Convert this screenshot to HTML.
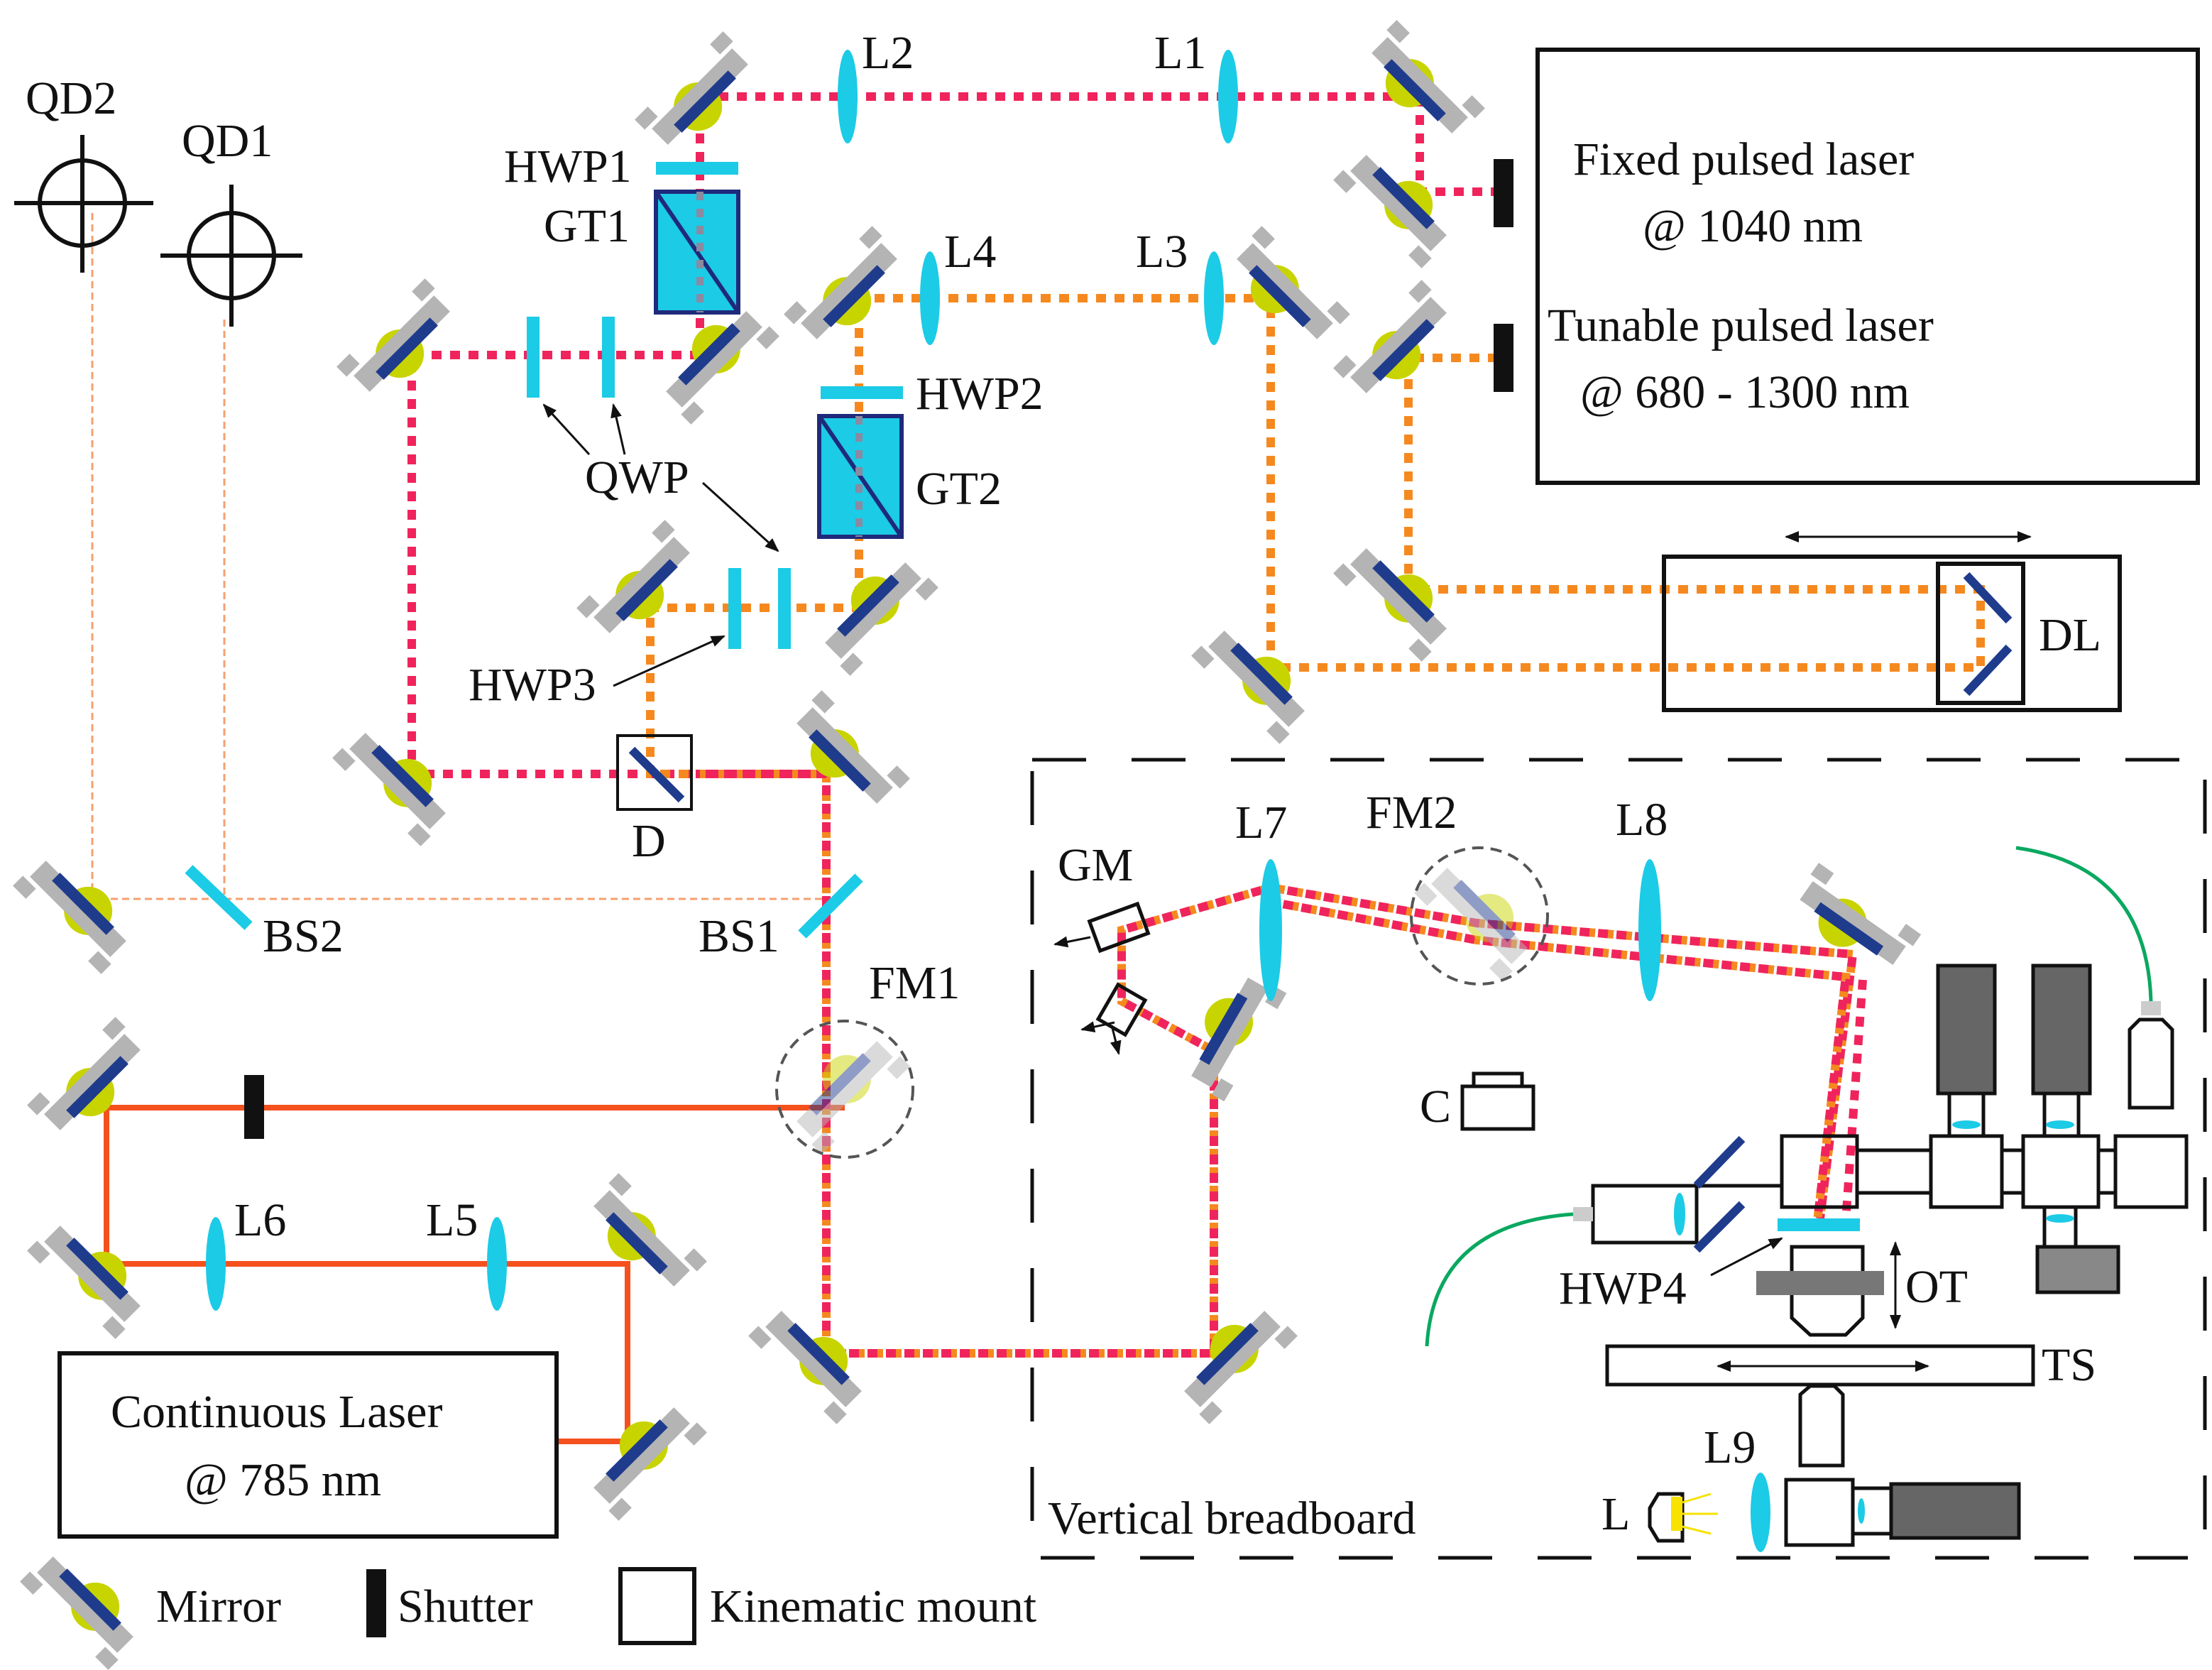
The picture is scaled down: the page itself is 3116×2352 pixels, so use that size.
<!DOCTYPE html>
<html><head><style>
html,body{margin:0;padding:0;background:#fff;}
svg{display:block;}
</style></head><body>
<svg width="3116" height="2352" viewBox="0 0 1558 1176" xmlns="http://www.w3.org/2000/svg" font-family="'Liberation Serif', serif" font-size="33" fill="#111">
<defs>
<g id="m">
<circle cx="-6" cy="4" r="17" fill="#c8d400"/>
<rect x="-40" y="-8" width="80" height="16" fill="#b4b4b4"/>
<rect x="-44" y="-21" width="13" height="10" fill="#b4b4b4"/>
<rect x="31" y="-21" width="13" height="10" fill="#b4b4b4"/>
<rect x="-27" y="1" width="54" height="8" fill="#1f3b8c"/>
</g>
<marker id="ah" markerWidth="10" markerHeight="8" refX="9" refY="4" orient="auto" markerUnits="userSpaceOnUse"><path d="M0,0 L10,4 L0,8z" fill="#111"/></marker>
<marker id="ah2" markerWidth="10" markerHeight="8" refX="1" refY="4" orient="auto" markerUnits="userSpaceOnUse"><path d="M10,0 L0,4 L10,8z" fill="#111"/></marker>
</defs>

<g stroke="#f5a070" stroke-width="1.5" stroke-dasharray="5 3" fill="none">
<path d="M65,150 V633 H582"/><path d="M158,225 V633"/>
</g>

<path d="M392,1015 H442 V890 H75 V780 H595" stroke="#f4511e" stroke-width="4" fill="none"/>

<g stroke="#f0245c" stroke-width="6" stroke-dasharray="7 6" fill="none">
<path d="M493,68 H1000 V135 H1055"/>
<path d="M493,68 V250 H290 V545 H582"/>
</g>
<g stroke="#f5891f" stroke-width="6" stroke-dasharray="7 6" fill="none">
<path d="M1055,252 H992 V415 H1395 L1395,470 H895 V210 H605 V428 H458 V545 H490"/>
</g>
<g fill="none" stroke-width="6">
<path d="M490,545 H582 V953 H855 V740 L790,705 L790,655 L895,625 L1040,650 L1305,672 L1282,858" stroke="#f5891f" stroke-dasharray="7 6"/>
<path d="M490,545 H582 V953 H855 V740 L790,705 L790,655 L895,625 L1040,650 L1305,672 L1282,858" stroke="#f0245c" stroke-dasharray="7 6" stroke-dashoffset="4"/>
<path d="M895,635 L1040,662 L1300,688 L1280,860" stroke="#f5891f" stroke-dasharray="7 6"/>
<path d="M895,635 L1040,662 L1300,688 L1280,860" stroke="#f0245c" stroke-dasharray="7 6" stroke-dashoffset="4"/>
<path d="M1312,690 L1300,860" stroke="#f0245c" stroke-dasharray="7 6"/>
</g>

<use href="#m" transform="translate(493,68) rotate(-45)"/>
<use href="#m" transform="translate(1000,60) rotate(45)"/>
<use href="#m" transform="translate(985,143) rotate(-135)"/>
<use href="#m" transform="translate(598,205) rotate(-45)"/>
<use href="#m" transform="translate(905,205) rotate(45)"/>
<use href="#m" transform="translate(985,243) rotate(-45)"/>
<use href="#m" transform="translate(985,420) rotate(-135)"/>
<use href="#m" transform="translate(885,478) rotate(-135)"/>
<use href="#m" transform="translate(283,242) rotate(-45)"/>
<use href="#m" transform="translate(503,253) rotate(135)"/>
<use href="#m" transform="translate(452,412) rotate(-45)"/>
<use href="#m" transform="translate(615,430) rotate(135)"/>
<use href="#m" transform="translate(280,550) rotate(-135)"/>
<use href="#m" transform="translate(595,532) rotate(45)"/>
<use href="#m" transform="translate(55,640) rotate(-135)"/>
<use href="#m" transform="translate(65,762) rotate(-45)"/>
<use href="#m" transform="translate(65,897) rotate(-135)"/>
<use href="#m" transform="translate(452,872) rotate(45)"/>
<use href="#m" transform="translate(452,1025) rotate(135)"/>
<use href="#m" transform="translate(573,957) rotate(-135)"/>
<use href="#m" transform="translate(868,957) rotate(135)"/>
<use href="#m" transform="translate(866,727) rotate(120)"/>
<use href="#m" transform="translate(1305,650) rotate(35)"/>
<use href="#m" transform="translate(60,1130) rotate(-135)"/>
<g opacity="0.5"><use href="#m" transform="translate(595,767) rotate(135)"/><use href="#m" transform="translate(1042,645) rotate(-135)"/></g>
<circle cx="595" cy="767" r="48" fill="none" stroke="#555" stroke-width="2" stroke-dasharray="8 5"/>
<circle cx="1042" cy="645" r="48" fill="none" stroke="#555" stroke-width="2" stroke-dasharray="8 5"/>

<g stroke="#1ccbe6" stroke-width="8"><line x1="133" y1="612" x2="175" y2="652"/><line x1="565" y1="658" x2="605" y2="618"/></g>

<g fill="#1ccbe6">
<ellipse cx="597" cy="68" rx="7" ry="33"/><ellipse cx="865" cy="68" rx="7" ry="33"/>
<ellipse cx="655" cy="210" rx="7" ry="33"/><ellipse cx="855" cy="210" rx="7" ry="33"/>
<ellipse cx="152" cy="890" rx="7" ry="33"/><ellipse cx="350" cy="890" rx="7" ry="33"/>
<ellipse cx="895" cy="655" rx="8" ry="50"/><ellipse cx="1162" cy="655" rx="8" ry="50"/>
<ellipse cx="1240" cy="1065" rx="7" ry="28"/>
<rect x="462" y="114" width="58" height="9"/><rect x="578" y="272" width="58" height="9"/>
<rect x="1252" y="858" width="58" height="9"/>
<rect x="371" y="223" width="9" height="57"/><rect x="424" y="223" width="9" height="57"/>
<rect x="513" y="400" width="9" height="57"/><rect x="548" y="400" width="9" height="57"/>
</g>
<g stroke="#1f2a7a" stroke-width="3" fill="#1ccbe6">
<rect x="462" y="135" width="58" height="85"/><line x1="462" y1="135" x2="520" y2="220"/>
<rect x="577" y="293" width="58" height="85"/><line x1="577" y1="293" x2="635" y2="378"/>
</g>
<g stroke="#8a8aa0" stroke-width="5" stroke-dasharray="6 6"><line x1="493" y1="135" x2="493" y2="220"/><line x1="605" y1="293" x2="605" y2="378"/></g>
<rect x="435" y="518" width="52" height="52" fill="none" stroke="#111" stroke-width="2"/>
<line x1="445" y1="528" x2="480" y2="563" stroke="#1f3b8c" stroke-width="6"/>

<g stroke="#111" stroke-width="3" fill="none">
<circle cx="58" cy="143" r="30"/><line x1="10" y1="143" x2="108" y2="143"/><line x1="58" y1="95" x2="58" y2="192"/>
<circle cx="163" cy="180" r="30"/><line x1="113" y1="180" x2="213" y2="180"/><line x1="163" y1="130" x2="163" y2="230"/>
</g>

<g fill="#111"><rect x="1052" y="112" width="14" height="48"/><rect x="1052" y="228" width="14" height="48"/><rect x="172" y="757" width="14" height="45"/><rect x="258" y="1105" width="14" height="48"/></g>

<g fill="none" stroke="#111" stroke-width="3">
<rect x="1083" y="35" width="465" height="305"/>
<rect x="1172" y="392" width="321" height="108"/>
<rect x="1365" y="397" width="60" height="98"/>
<rect x="42" y="953" width="350" height="129"/>
<rect x="437" y="1105" width="52" height="52"/>
<rect x="727" y="535" width="826" height="562" stroke-dasharray="38 32" stroke-width="2.5"/>
</g>
<g stroke="#1f3b8c" stroke-width="6"><line x1="1385" y1="405" x2="1415" y2="437"/><line x1="1385" y1="488" x2="1415" y2="456"/></g>
<line x1="1258" y1="378" x2="1430" y2="378" stroke="#111" stroke-width="1.5" marker-end="url(#ah)" marker-start="url(#ah2)"/>

<g stroke="#111" stroke-width="1.5" fill="none" marker-end="url(#ah)">
<line x1="415" y1="320" x2="383" y2="285"/><line x1="440" y1="320" x2="432" y2="285"/>
<line x1="495" y1="340" x2="548" y2="388"/>
<line x1="432" y1="483" x2="510" y2="448"/>
<line x1="1205" y1="898" x2="1255" y2="872"/>
</g>

<g stroke="#111" stroke-width="2.5" fill="none">
<rect x="770" y="642" width="36" height="22" transform="rotate(-20 788 653)"/>
<rect x="776" y="700" width="28" height="22" transform="rotate(-60 790 711)"/>
</g>
<g stroke="#111" stroke-width="1.5" marker-end="url(#ah)"><line x1="768" y1="660" x2="743" y2="665"/><line x1="785" y1="720" x2="762" y2="725"/><line x1="783" y1="722" x2="788" y2="742"/></g>

<g fill="none" stroke="#111" stroke-width="2.5"><rect x="1030" y="765" width="50" height="30"/><rect x="1038" y="756" width="34" height="9"/></g>

<g stroke="#111" stroke-width="2.5">
<rect x="1365" y="680" width="40" height="90" fill="#666"/>
<rect x="1432" y="680" width="40" height="90" fill="#666"/>
<rect x="1373" y="770" width="24" height="30" fill="#fff"/>
<rect x="1440" y="770" width="24" height="30" fill="#fff"/>
<rect x="1255" y="800" width="53" height="50" fill="none"/>
<rect x="1308" y="810" width="52" height="30" fill="#fff"/>
<rect x="1360" y="800" width="50" height="50" fill="#fff"/>
<rect x="1410" y="810" width="15" height="30" fill="#fff"/>
<rect x="1425" y="800" width="53" height="50" fill="#fff"/>
<rect x="1478" y="810" width="12" height="30" fill="#fff"/>
<rect x="1490" y="800" width="50" height="50" fill="#fff"/>
<rect x="1440" y="850" width="22" height="28" fill="#fff"/>
<rect x="1435" y="878" width="57" height="32" fill="#888"/>
<rect x="1122" y="835" width="73" height="40" fill="#fff"/>
<line x1="1195" y1="835" x2="1255" y2="835" />
<path d="M1262,878 H1312 V928 L1300,940 H1275 L1262,928 Z" fill="#fff"/>
<path d="M1500,725 L1507,718 H1523 L1530,725 V780 H1500 Z" fill="#fff"/>
<rect x="1132" y="948" width="300" height="27" fill="#fff"/>
<path d="M1268,982 L1275,976 H1292 L1298,982 V1032 H1268 Z" fill="#fff"/>
<rect x="1258" y="1042" width="47" height="46" fill="#fff"/>
<rect x="1305" y="1048" width="27" height="32" fill="#fff"/>
<rect x="1332" y="1045" width="90" height="38" fill="#666"/>
<path d="M1185,1052 H1168 L1162,1062 V1075 L1168,1085 H1185 Z" fill="#fff"/>
</g>
<rect x="1237" y="895" width="90" height="17" fill="#777"/>
<g stroke="#1f3b8c" stroke-width="6"><line x1="1195" y1="835" x2="1227" y2="802"/><line x1="1195" y1="880" x2="1227" y2="848"/></g>
<g fill="#1ccbe6"><ellipse cx="1385" cy="792" rx="10" ry="3"/><ellipse cx="1451" cy="792" rx="10" ry="3"/><ellipse cx="1451" cy="858" rx="10" ry="3"/><ellipse cx="1183" cy="855" rx="4" ry="15"/><ellipse cx="1311" cy="1064" rx="2.5" ry="9"/></g>
<rect x="1508" y="705" width="14" height="10" fill="#ccc"/>
<rect x="1108" y="850" width="14" height="10" fill="#ccc"/>
<g stroke="#111" stroke-width="1.5" marker-end="url(#ah)" marker-start="url(#ah2)"><line x1="1335" y1="875" x2="1335" y2="935"/><line x1="1210" y1="962" x2="1358" y2="962"/></g>
<g stroke="#0aa860" stroke-width="2.5" fill="none"><path d="M1420,597 Q1512,610 1515,705"/><path d="M1005,948 Q1010,862 1108,855"/></g>
<g stroke="#f7e200" stroke-width="1.5"><line x1="1185" y1="1058" x2="1205" y2="1052"/><line x1="1185" y1="1066" x2="1210" y2="1066"/><line x1="1185" y1="1075" x2="1205" y2="1080"/></g>
<rect x="1177" y="1054" width="8" height="24" fill="#f7e200"/>

<g font-family="'Liberation Serif', serif" font-size="33" fill="#111" stroke="none">
<text x="18" y="80">QD2</text><text x="128" y="110">QD1</text>
<text x="607" y="48">L2</text><text x="813" y="48">L1</text>
<text x="355" y="128">HWP1</text><text x="383" y="170">GT1</text>
<text x="665" y="188">L4</text><text x="800" y="188">L3</text>
<text x="645" y="288">HWP2</text><text x="645" y="355">GT2</text>
<text x="412" y="347">QWP</text>
<text x="330" y="493">HWP3</text>
<text x="445" y="603">D</text>
<text x="185" y="670">BS2</text><text x="492" y="670">BS1</text>
<text x="612" y="703">FM1</text>
<text x="165" y="870">L6</text><text x="300" y="870">L5</text>
<text x="1108" y="123">Fixed pulsed laser</text>
<text x="1157" y="170">@ 1040 nm</text>
<text x="1090" y="240">Tunable pulsed laser</text>
<text x="1113" y="287">@ 680 - 1300 nm</text>
<text x="1436" y="458">DL</text>
<text x="78" y="1005">Continuous Laser</text>
<text x="130" y="1053">@ 785 nm</text>
<text x="110" y="1142">Mirror</text><text x="280" y="1142">Shutter</text><text x="500" y="1142">Kinematic mount</text>
<text x="745" y="620">GM</text><text x="870" y="590">L7</text><text x="962" y="583">FM2</text><text x="1138" y="588">L8</text>
<text x="1000" y="790">C</text>
<text x="1098" y="918">HWP4</text><text x="1342" y="917">OT</text><text x="1438" y="972">TS</text>
<text x="1200" y="1030">L9</text><text x="1128" y="1077">L</text>
<text x="738" y="1080">Vertical breadboard</text>
</g>
</svg>
</body></html>
